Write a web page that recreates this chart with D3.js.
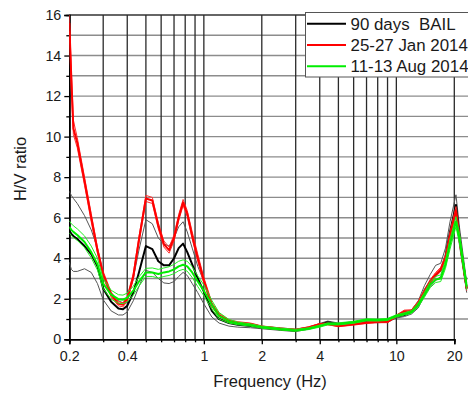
<html><head>
<script src="https://d3js.org/d3.v7.min.js"></script>
<style>
  body { margin: 0; background: #fff; }
  text { font-family: "Liberation Sans", Arial, sans-serif; }
</style>
</head>
<body>
<svg id="hv" width="468" height="396"></svg>
<script>

// frequencies (Hz), shared by all curves
const freq = [0.2, 0.205, 0.21, 0.22, 0.24, 0.26, 0.28, 0.30, 0.33, 0.36, 0.38, 0.40, 0.43, 0.46, 0.50,
  0.54, 0.58, 0.62, 0.66, 0.70, 0.74, 0.78, 0.82, 0.87, 0.93, 1.0, 1.1, 1.2, 1.35, 1.5,
  1.75, 2.0, 2.5, 3.0, 3.5, 4.0, 4.4, 5.0, 6.0, 7.0, 8.0, 9.0, 10, 11, 12,
  13, 14, 15, 16, 17, 18, 19, 20.4, 21.3, 23.2];

// 90 days BAIL : mean, mean+std, mean-std
const baseMean = [5.35, 5.2, 5.1, 4.95, 4.6, 4.2, 3.6, 2.5, 1.85, 1.52, 1.48, 1.65, 2.3, 3.3, 4.6,
  4.45, 3.85, 3.65, 3.65, 4.0, 4.5, 4.72, 4.3, 3.7, 3.0, 2.35, 1.4, 1.0, 0.8, 0.72,
  0.66, 0.58, 0.5, 0.44, 0.55, 0.72, 0.84, 0.74, 0.8, 0.88, 0.88, 0.9, 1.12, 1.2, 1.35,
  1.72, 2.4, 2.85, 3.15, 3.4, 4.1, 5.3, 6.63, 5.0, 2.5];
const baseHi = [7.3, 7.1, 6.95, 6.7, 6.1, 5.4, 4.5, 3.2, 2.3, 1.9, 1.8, 2.0, 3.0, 4.4, 5.9,
  5.7, 5.0, 4.7, 4.6, 5.0, 5.55, 5.8, 5.3, 4.5, 3.6, 2.85, 1.7, 1.15, 0.92, 0.82,
  0.74, 0.65, 0.56, 0.5, 0.6, 0.78, 0.9, 0.8, 0.86, 0.94, 0.94, 0.96, 1.2, 1.3, 1.45,
  1.9, 2.65, 3.2, 3.65, 3.75, 4.5, 5.8, 7.13, 5.5, 2.8];
const baseLo = [3.8, 3.45, 3.35, 3.35, 3.48, 3.3, 2.75, 1.95, 1.4, 1.2, 1.2, 1.35, 1.9, 2.6, 3.4,
  3.3, 3.0, 2.78, 2.75, 2.85, 3.1, 3.3, 3.15, 2.75, 2.3, 1.75, 1.1, 0.8, 0.65, 0.6,
  0.57, 0.52, 0.44, 0.38, 0.5, 0.66, 0.78, 0.68, 0.74, 0.82, 0.82, 0.84, 1.05, 1.12, 1.25,
  1.55, 2.15, 2.6, 2.9, 3.1, 3.7, 4.8, 6.1, 4.6, 2.3];

// 25-27 Jan 2014
const janMean = [15.6, 12.8, 10.4, 9.7, 7.8, 6.0, 4.4, 3.2, 2.2, 1.75, 1.7, 2.0, 3.1, 4.9, 6.95,
  6.85, 5.6, 4.7, 4.4, 5.0, 6.0, 6.75, 6.2, 5.1, 4.0, 2.9, 1.7, 1.2, 0.9, 0.82,
  0.76, 0.62, 0.52, 0.46, 0.58, 0.74, 0.76, 0.66, 0.74, 0.82, 0.86, 0.86, 1.15, 1.38, 1.4,
  1.8, 2.35, 2.85, 3.2, 3.45, 4.0, 5.1, 6.35, 4.9, 2.5];
const janHi = [16.0, 13.3, 10.8, 9.95, 8.0, 6.2, 4.55, 3.35, 2.32, 1.85, 1.8, 2.12, 3.25, 5.05, 7.1,
  7.0, 5.75, 4.85, 4.55, 5.15, 6.15, 6.9, 6.35, 5.3, 4.2, 3.05, 1.82, 1.28, 0.96, 0.87,
  0.8, 0.66, 0.56, 0.5, 0.62, 0.78, 0.8, 0.7, 0.78, 0.86, 0.9, 0.9, 1.2, 1.44, 1.46,
  1.88, 2.45, 2.95, 3.3, 3.55, 4.15, 5.3, 6.55, 5.1, 2.6];
const janLo = [15.2, 12.3, 10.1, 9.45, 7.6, 5.8, 4.25, 3.05, 2.08, 1.65, 1.6, 1.88, 2.95, 4.75, 6.8,
  6.7, 5.45, 4.55, 4.25, 4.85, 5.85, 6.6, 6.05, 4.95, 3.85, 2.75, 1.6, 1.12, 0.84, 0.77,
  0.72, 0.58, 0.48, 0.42, 0.54, 0.7, 0.72, 0.62, 0.7, 0.78, 0.82, 0.82, 1.1, 1.32, 1.34,
  1.72, 2.25, 2.75, 3.1, 3.35, 3.85, 4.9, 6.15, 4.7, 2.4];

// 11-13 Aug 2014
const augMean = [5.55, 5.4, 5.3, 5.15, 4.8, 4.3, 3.7, 2.75, 2.2, 1.98, 1.95, 2.05, 2.4, 2.85, 3.3,
  3.3, 3.22, 3.3, 3.35, 3.45, 3.6, 3.68, 3.6, 3.3, 2.85, 2.4, 1.7, 1.15, 0.88, 0.78,
  0.7, 0.6, 0.5, 0.44, 0.52, 0.65, 0.76, 0.76, 0.84, 0.96, 0.95, 0.98, 1.15, 1.25, 1.35,
  1.7, 2.2, 2.7, 2.95, 3.0, 3.7, 4.7, 5.8, 4.95, 2.6];
const augHi = [5.85, 5.7, 5.6, 5.45, 5.1, 4.6, 4.0, 3.0, 2.42, 2.2, 2.18, 2.28, 2.62, 3.08, 3.5,
  3.52, 3.45, 3.52, 3.58, 3.7, 3.85, 3.92, 3.85, 3.58, 3.12, 2.68, 1.92, 1.32, 0.98, 0.85,
  0.76, 0.65, 0.55, 0.49, 0.57, 0.7, 0.81, 0.81, 0.89, 1.01, 1.0, 1.03, 1.21, 1.31, 1.42,
  1.8, 2.32, 2.85, 3.1, 3.18, 3.9, 4.95, 6.05, 5.2, 2.75];
const augLo = [5.25, 5.12, 5.02, 4.88, 4.52, 4.02, 3.42, 2.5, 1.98, 1.78, 1.76, 1.85, 2.18, 2.62, 3.1,
  3.1, 3.02, 3.1, 3.15, 3.24, 3.38, 3.45, 3.36, 3.05, 2.6, 2.15, 1.5, 1.0, 0.8, 0.72,
  0.65, 0.55, 0.46, 0.4, 0.48, 0.6, 0.71, 0.71, 0.79, 0.91, 0.9, 0.93, 1.1, 1.2, 1.28,
  1.6, 2.08, 2.55, 2.8, 2.85, 3.5, 4.45, 5.55, 4.7, 2.45];

const legendLabels = ["90 days  BAIL", "25-27 Jan 2014", "11-13 Aug 2014"];
const xTickLabels = [0.2, 0.4, 1, 2, 4, 10, 20];
const xGrid = [0.3, 0.4, 0.5, 0.6, 0.7, 0.8, 0.9, 1, 2, 3, 4, 5, 6, 7, 8, 9, 10, 20];
const yTickLabels = [0, 2, 4, 6, 8, 10, 12, 14, 16];
const yGrid = d3.range(1, 17);

const svg = d3.select("#hv");
const plotLeft = 69.3, plotTop = 15, plotBottom = 339.3, plotRight = 480;

// 1. scales - log frequency, the plot runs off the right edge of the window
let x = d3.scaleLog().domain([0.2, 20]).range([plotLeft, 454.3]);
let y = d3.scaleLinear().domain([0, 16]).range([plotBottom, plotTop]);

svg.append("clipPath").attr("id", "clip")
   .append("rect").attr("x", plotLeft).attr("y", plotTop)
   .attr("width", plotRight - plotLeft).attr("height", plotBottom - plotTop);

// 2. grid
let grid = svg.append("g");
grid.selectAll("line.h").data(yGrid).join("line")
    .attr("x1", plotLeft).attr("x2", plotRight)
    .attr("y1", d => y(d)).attr("y2", d => y(d))
    .attr("stroke", d => d === 16 ? "#333" : "#8c8c8c").attr("stroke-width", 1.4);
grid.selectAll("line.v").data(xGrid).join("line")
    .attr("x1", d => x(d)).attr("x2", d => x(d))
    .attr("y1", plotTop).attr("y2", plotBottom)
    .attr("stroke", "#2a2a2a").attr("stroke-width", 1.3);

// 3. axes
svg.append("g").attr("transform", `translate(${plotLeft},0)`)
   .call(d3.axisLeft(y).tickValues(yTickLabels).tickSize(5).tickPadding(3));
svg.append("g").attr("transform", `translate(${plotLeft},0)`)
   .call(d3.axisLeft(y).tickValues(d3.range(1, 16, 2)).tickSize(3).tickFormat(""));

svg.append("g").attr("transform", `translate(0,${plotBottom})`)
   .call(d3.axisBottom(x).tickValues(xTickLabels).tickSize(5).tickPadding(7).tickFormat(d3.format("")));
svg.append("g").attr("transform", `translate(0,${plotBottom})`)
   .call(d3.axisBottom(x).tickValues(xGrid.filter(d => !xTickLabels.includes(d))).tickSize(3).tickFormat(""));

svg.selectAll(".domain").attr("stroke", "#000").attr("stroke-width", 1.6);
svg.selectAll(".tick line").attr("stroke", "#000").attr("stroke-width", 1.3);
svg.selectAll(".tick text").attr("fill", "#1a1a1a").style("font-size", "14.3px")
   .style("font-family", "'Liberation Sans', Arial, sans-serif");

svg.append("text").attr("x", 270).attr("y", 387).attr("text-anchor", "middle")
   .style("font-size", "16.5px").attr("fill", "#1a1a1a").text("Frequency (Hz)");
svg.append("text").attr("transform", "translate(25.5,169) rotate(-90)").attr("text-anchor", "middle")
   .style("font-size", "16.5px").attr("fill", "#1a1a1a").text("H/V ratio");

// 4. curves
const series = [
  { mean: baseMean, hi: baseHi, lo: baseLo, color: "#000", std: "#555" },
  { mean: janMean, hi: janHi, lo: janLo, color: "#ff0000", std: "#ff3030" },
  { mean: augMean, hi: augHi, lo: augLo, color: "#00ee00", std: "#22ee22" }
];

let plot = svg.append("g").attr("clip-path", "url(#clip)");
let lineGen = d3.line().x((d, i) => x(freq[i])).y(d => y(d));

series.forEach(s => {
  [s.hi, s.lo].forEach(arr => {
    plot.append("path").attr("d", lineGen(arr))
        .attr("fill", "none").attr("stroke", s.std).attr("stroke-width", 1)
        .attr("stroke-linejoin", "round");
  });
  plot.append("path").attr("d", lineGen(s.mean))
      .attr("fill", "none").attr("stroke", s.color).attr("stroke-width", 2)
      .attr("stroke-linejoin", "round");
});

// 5. legend
let legend = svg.append("g");
legend.append("rect").attr("x", 305.5).attr("y", 12.5).attr("width", 200).attr("height", 64.5)
      .attr("fill", "#fff").attr("stroke", "#555").attr("stroke-width", 1);
series.forEach((s, i) => {
  let ly = 23.7 + i * 21.3;
  legend.append("line").attr("x1", 307).attr("x2", 346).attr("y1", ly).attr("y2", ly)
        .attr("stroke", s.color).attr("stroke-width", 2);
  legend.append("text").attr("x", 350.5).attr("y", ly + 6)
        .style("font-size", "16.9px").style("white-space", "pre").attr("fill", "#1a1a1a")
        .text(legendLabels[i]);
});

</script>
</body>
</html>
